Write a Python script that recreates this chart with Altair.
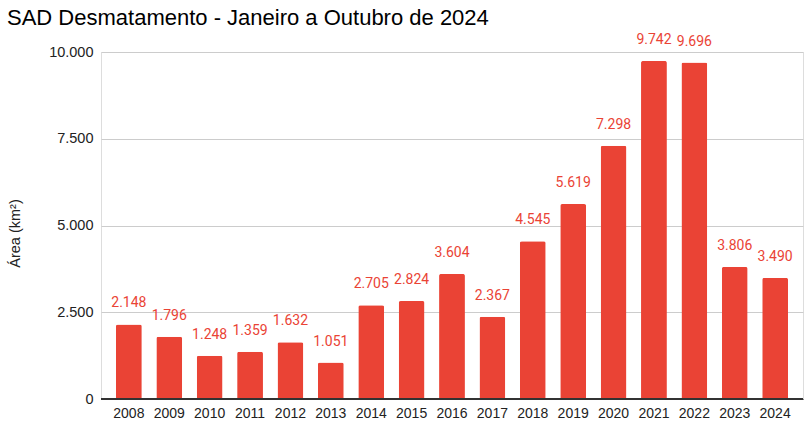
import altair as alt
import pandas as pd

years = ["2008", "2009", "2010", "2011", "2012", "2013", "2014", "2015", "2016",
         "2017", "2018", "2019", "2020", "2021", "2022", "2023", "2024"]
area = [2148, 1796, 1248, 1359, 1632, 1051, 2705, 2824, 3604,
        2367, 4545, 5619, 7298, 9742, 9696, 3806, 3490]

df = pd.DataFrame({"ano": years, "area": area})

RED = "#EA4335"

base = alt.Chart(df).encode(
    x=alt.X("ano:N", sort=None,
            scale=alt.Scale(paddingInner=0.36, paddingOuter=0.37),
            axis=alt.Axis(title=None, labelAngle=0, ticks=False, domain=True,
                          domainColor="#333333", labelFont="Liberation Sans",
                          labelFontSize=14, labelColor="#222222", labelPadding=7,
                          grid=False)),
    y=alt.Y("area:Q",
            scale=alt.Scale(domain=[0, 10000], nice=False),
            axis=alt.Axis(title="Área (km²)", values=[0, 2500, 5000, 7500, 10000],
                          labelExpr="replace(format(datum.value, ','), ',', '.')",
                          ticks=False, domain=False, grid=True, gridColor="#cccccc",
                          labelFont="Liberation Sans", labelFontSize=14.5,
                          labelColor="#222222", labelPadding=8,
                          titleFont="Liberation Sans", titleFontSize=14.5,
                          titleFontWeight="normal", titleColor="#222222",
                          titleX=-86, titleY=181, titleBaseline="middle",
                          titleAngle=270)),
)

bars = base.mark_bar(color=RED, cornerRadiusTopLeft=2, cornerRadiusTopRight=2)

labels = base.transform_calculate(
    lbl="replace(format(datum.area, ','), ',', '.')"
).mark_text(color=RED, font="Roboto", fontSize=14, baseline="alphabetic",
            dy=-17).encode(text="lbl:N")

zero = alt.Chart(df).mark_rule(color="#333333").encode(y=alt.datum(0))

chart = alt.layer(bars, labels, zero).properties(
    width=702, height=347,
    title=alt.TitleParams("SAD Desmatamento - Janeiro a Outubro de 2024",
                          anchor="start", frame="bounds", font="Liberation Sans",
                          fontSize=22, fontWeight="normal", color="#000000",
                          offset=3),
    autosize=alt.AutoSizeParams(type="none"),
    padding={"left": 101, "top": 52, "right": 2, "bottom": 25},
).configure_view(stroke=None).configure(background="white")

chart.save("out.html", embed_options={"renderer": "svg", "actions": False})
